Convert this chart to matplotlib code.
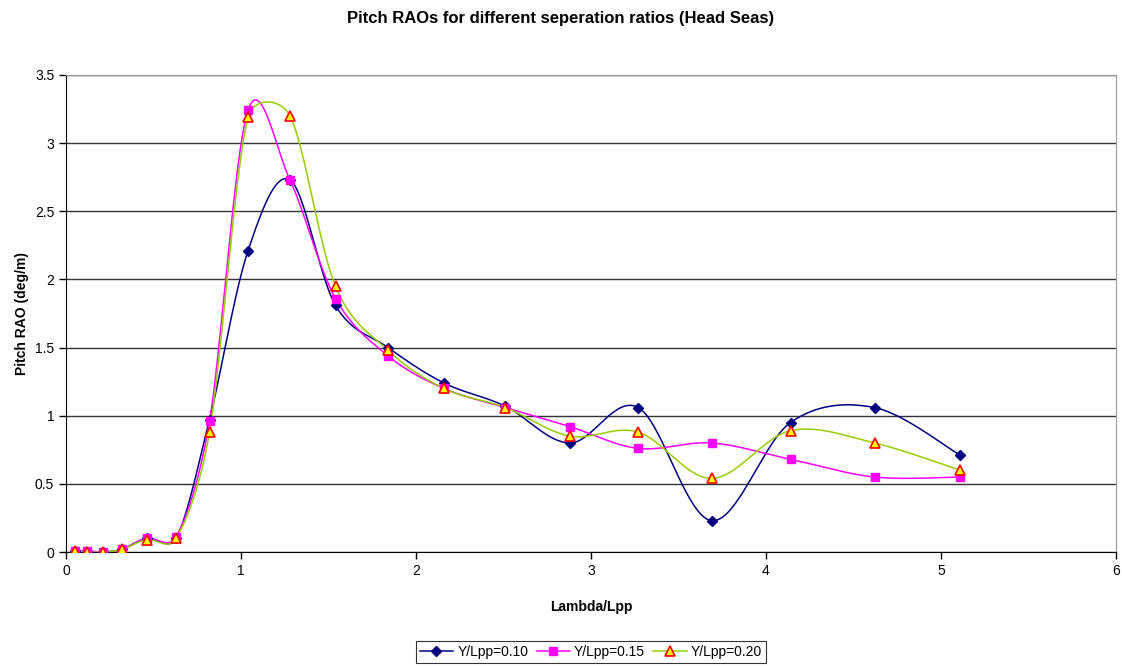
import numpy as np
import matplotlib
matplotlib.use("Agg")
import matplotlib.pyplot as plt

plt.rcParams["font.family"] = ["Liberation Sans", "DejaVu Sans"]

# Lambda/Lpp values (shared by all series)
lam = [0.05, 0.12, 0.21, 0.32, 0.46, 0.63, 0.82, 1.04, 1.28, 1.54,
       1.84, 2.16, 2.51, 2.88, 3.27, 3.69, 4.14, 4.62, 5.11]

rao_010 = [0.01, 0.00, 0.00, 0.02, 0.10, 0.10, 0.97, 2.21, 2.73, 1.81,
           1.50, 1.24, 1.07, 0.80, 1.06, 0.23, 0.95, 1.06, 0.71]
rao_015 = [0.01, 0.01, 0.00, 0.02, 0.10, 0.11, 0.96, 3.24, 2.73, 1.86,
           1.44, 1.20, 1.06, 0.92, 0.76, 0.80, 0.68, 0.55, 0.55]
rao_020 = [0.01, 0.00, 0.00, 0.02, 0.09, 0.10, 0.88, 3.19, 3.20, 1.95,
           1.48, 1.20, 1.06, 0.85, 0.88, 0.54, 0.89, 0.80, 0.60]

labels = ["Y/Lpp=0.10", "Y/Lpp=0.15", "Y/Lpp=0.20"]

XMAX, YMAX = 6, 3.5
AX_W, AX_H = 1050, 477  # plot area in pixels, used for smoothing distances


def smooth(x, y, n=40):
    # Excel-like smoothed line: Bezier segments, control arms of 1/6 of the
    # neighbour chord, capped at half the segment length (in screen units)
    sx, sy = AX_W / XMAX, AX_H / YMAX
    p = np.column_stack([np.asarray(x, float) * sx, np.asarray(y, float) * sy])
    p = np.vstack([p[0], p, p[-1]])
    t = np.linspace(0, 1, n)[:, None]
    out = []
    for i in range(1, len(p) - 2):
        p0, p1, p2, p3 = p[i - 1], p[i], p[i + 1], p[i + 2]
        d12 = np.hypot(*(p2 - p1))
        d02 = np.hypot(*(p2 - p0))
        d13 = np.hypot(*(p3 - p1))
        f1 = 1 / 6 if d02 / 6 < d12 / 2 else 0.5 * d12 / d02
        f2 = 1 / 6 if d13 / 6 < d12 / 2 else 0.5 * d12 / d13
        c1 = p1 + (p2 - p0) * f1
        c2 = p2 - (p3 - p1) * f2
        b = (1 - t) ** 3 * p1 + 3 * (1 - t) ** 2 * t * c1 + 3 * (1 - t) * t ** 2 * c2 + t ** 3 * p2
        out.append(b)
    b = np.vstack(out)
    return b[:, 0] / sx, b[:, 1] / sy


fig = plt.figure(figsize=(11.22, 6.66), dpi=100)
ax = fig.add_axes([66 / 1122, 1 - 552 / 666, AX_W / 1122, AX_H / 666])

styles = [
    dict(color="#000080", marker="D", mfc="#000080", mec="#000080", ms=5),
    dict(color="#FF00FF", marker="s", mfc="#FF00FF", mec="#FF00FF", ms=6),
    dict(color="#99CC00", marker="^", mfc="#FFFF00", mec="#FF0000", ms=7, mew=1.2),
]

for y, lab, st in zip([rao_010, rao_015, rao_020], labels, styles):
    sx, sy = smooth(lam, y)
    ax.plot(sx, sy, color=st["color"], lw=1.1, zorder=3)
    ax.plot(lam, y, ls="none", marker=st["marker"], mfc=st["mfc"], mec=st["mec"],
            ms=st["ms"], mew=st.get("mew", 1.0), zorder=4)
    ax.plot([], [], color=st["color"], lw=1.1, marker=st["marker"], mfc=st["mfc"],
            mec=st["mec"], ms=st["ms"], mew=st.get("mew", 1.0), label=lab)

ax.set_xlim(0, XMAX)
ax.set_ylim(0, YMAX)
ax.set_xticks(range(0, 7))
ax.set_yticks([0, 0.5, 1, 1.5, 2, 2.5, 3, 3.5])
ax.set_yticklabels(["0", "0.5", "1", "1.5", "2", "2.5", "3", "3.5"])
ax.yaxis.grid(True, color="#333333", lw=1.0)
ax.set_axisbelow(True)
ax.tick_params(direction="out", length=5, labelsize=10, width=1)
for s in ["top", "right"]:
    ax.spines[s].set_color("#999999")
ax.spines["left"].set_color("black")
ax.spines["bottom"].set_color("black")

ax.set_xlabel("Lambda/Lpp", fontsize=10, fontweight="bold", labelpad=16)
ax.set_ylabel("Pitch RAO (deg/m)", fontsize=10, fontweight="bold", labelpad=4)
fig.text(0.5, 1 - 18 / 666, "Pitch RAOs for different seperation ratios (Head Seas)",
         ha="center", va="center", fontsize=12, fontweight="bold")

leg = ax.legend(loc="center", bbox_to_anchor=(0.5, -0.21), ncol=3, frameon=True,
                fancybox=False, edgecolor="black", fontsize=10, handlelength=2.4,
                columnspacing=0.6, handletextpad=0.3, borderpad=0.3)
leg.get_frame().set_linewidth(0.8)

fig.savefig("out.png", dpi=100)
